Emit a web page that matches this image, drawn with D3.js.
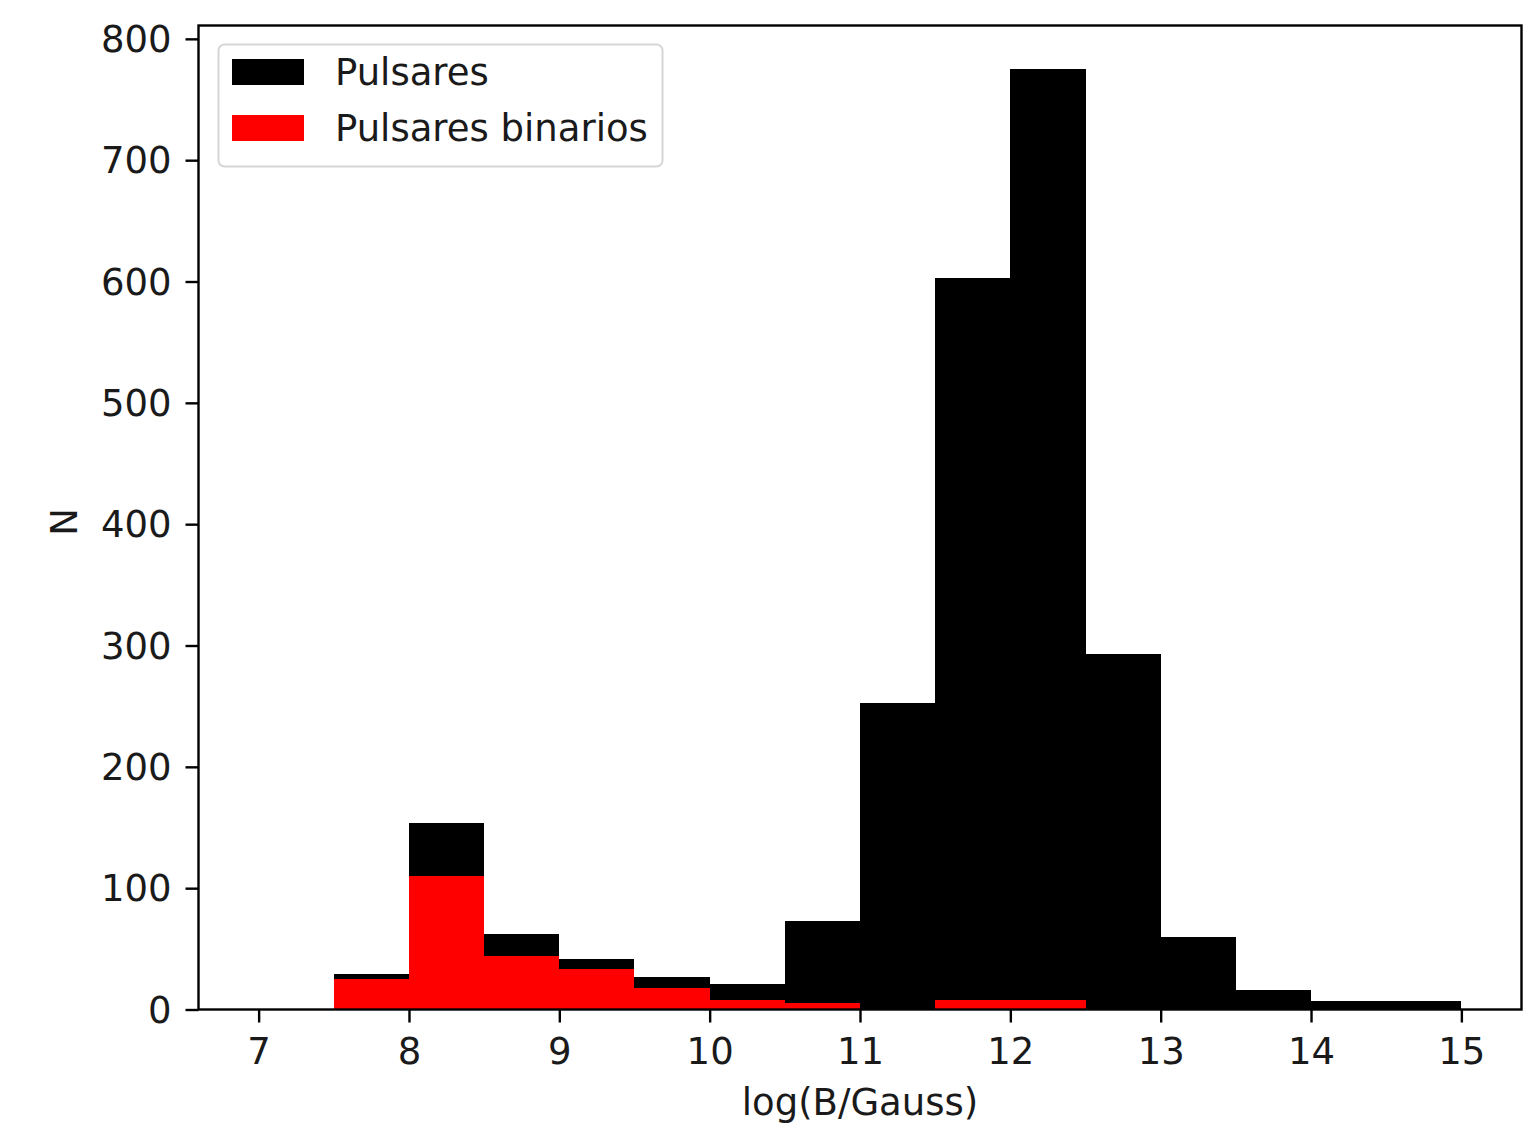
<!DOCTYPE html>
<html>
<head>
<meta charset="utf-8">
<script src="https://cdn.jsdelivr.net/npm/d3@7"></script>
<style>
  html, body { margin: 0; padding: 0; background: #fff; }
  svg { display: block; font-family: "DejaVu Sans", sans-serif; }
</style>
</head>
<body>
<svg id="chart" width="1538" height="1139"></svg>
<script>
// Histogram bins of log(B/Gauss): left edges, width 0.5
const binStarts = [7, 7.5, 8, 8.5, 9, 9.5, 10, 10.5, 11, 11.5, 12, 12.5, 13, 13.5, 14, 14.5];
const binWidth = 0.5;
// Counts per bin
const pulsares = [0, 29, 154, 62, 42, 27, 21, 73, 253, 603, 775, 293, 60, 16, 7, 7];
const binarios = [0, 25, 110, 44, 33, 18, 8, 5, 0, 8, 8, 0, 0, 0, 0, 0];
const xTicks = [7, 8, 9, 10, 11, 12, 13, 14, 15];
const yTicks = [0, 100, 200, 300, 400, 500, 600, 700, 800];
const seriesNames = ["Pulsares", "Pulsares binarios"];
const seriesColors = ["#000000", "#ff0000"];

const svg = d3.select("#chart");
const plot = { left: 198.5, right: 1521.5, top: 25.5, bottom: 1009.5 };
const fontSize = 37;

const x = d3.scaleLinear().domain([6.6, 15.4]).range([plot.left, plot.right]);
const y = d3.scaleLinear().domain([0, 811]).range([plot.bottom, plot.top]);

function drawHist(counts, color) {
  svg.append("g").selectAll("rect")
    .data(binStarts.map((s, i) => ({ s, v: counts[i] })).filter(d => d.v > 0))
    .join("rect")
    .attr("x", d => x(d.s))
    .attr("width", d => x(d.s + binWidth) - x(d.s))
    .attr("y", d => y(d.v))
    .attr("height", d => y(0) - y(d.v))
    .attr("fill", color)
    .attr("shape-rendering", "crispEdges");
}
drawHist(pulsares, seriesColors[0]);
drawHist(binarios, seriesColors[1]);

// Frame
svg.append("rect")
  .attr("x", plot.left).attr("y", plot.top)
  .attr("width", plot.right - plot.left).attr("height", plot.bottom - plot.top)
  .attr("fill", "none").attr("stroke", "#000").attr("stroke-width", 2.4);

// Axes
const xAxis = svg.append("g")
  .attr("transform", `translate(0,${plot.bottom})`)
  .call(d3.axisBottom(x).tickValues(xTicks).tickSize(13).tickPadding(15).tickFormat(d3.format("d")));
const yAxis = svg.append("g")
  .attr("transform", `translate(${plot.left},0)`)
  .call(d3.axisLeft(y).tickValues(yTicks).tickSize(13).tickPadding(14).tickFormat(d3.format("d")));
[xAxis, yAxis].forEach(g => {
  g.select(".domain").remove();
  g.selectAll(".tick line").attr("stroke", "#000").attr("stroke-width", 2.4);
  g.selectAll(".tick text").attr("fill", "#1a1a1a")
    .style("font-size", fontSize + "px").style("font-family", "'DejaVu Sans', sans-serif");
});
yAxis.selectAll(".tick text").attr("dy", "0.34em");

// Axis labels
svg.append("text")
  .attr("x", (plot.left + plot.right) / 2).attr("y", 1115)
  .attr("text-anchor", "middle").attr("fill", "#1a1a1a")
  .style("font-size", fontSize + "px")
  .text("log(B/Gauss)");
svg.append("text")
  .attr("transform", "translate(77,522) rotate(-90)")
  .attr("text-anchor", "middle").attr("fill", "#1a1a1a")
  .style("font-size", fontSize + "px")
  .text("N");

// Legend
const legend = svg.append("g");
legend.append("rect")
  .attr("x", 218.5).attr("y", 44.5).attr("width", 444).attr("height", 122)
  .attr("rx", 6).attr("fill", "#fff").attr("fill-opacity", 0.8)
  .attr("stroke", "#d6d6d6").attr("stroke-width", 2);
seriesNames.forEach((name, i) => {
  const cy = 72 + i * 56;
  legend.append("rect")
    .attr("x", 232).attr("y", cy - 13).attr("width", 72).attr("height", 26)
    .attr("fill", seriesColors[i]);
  legend.append("text")
    .attr("x", 335).attr("y", cy).attr("dy", "0.35em")
    .attr("fill", "#1a1a1a").style("font-size", fontSize + "px")
    .text(name);
});
</script>
</body>
</html>
